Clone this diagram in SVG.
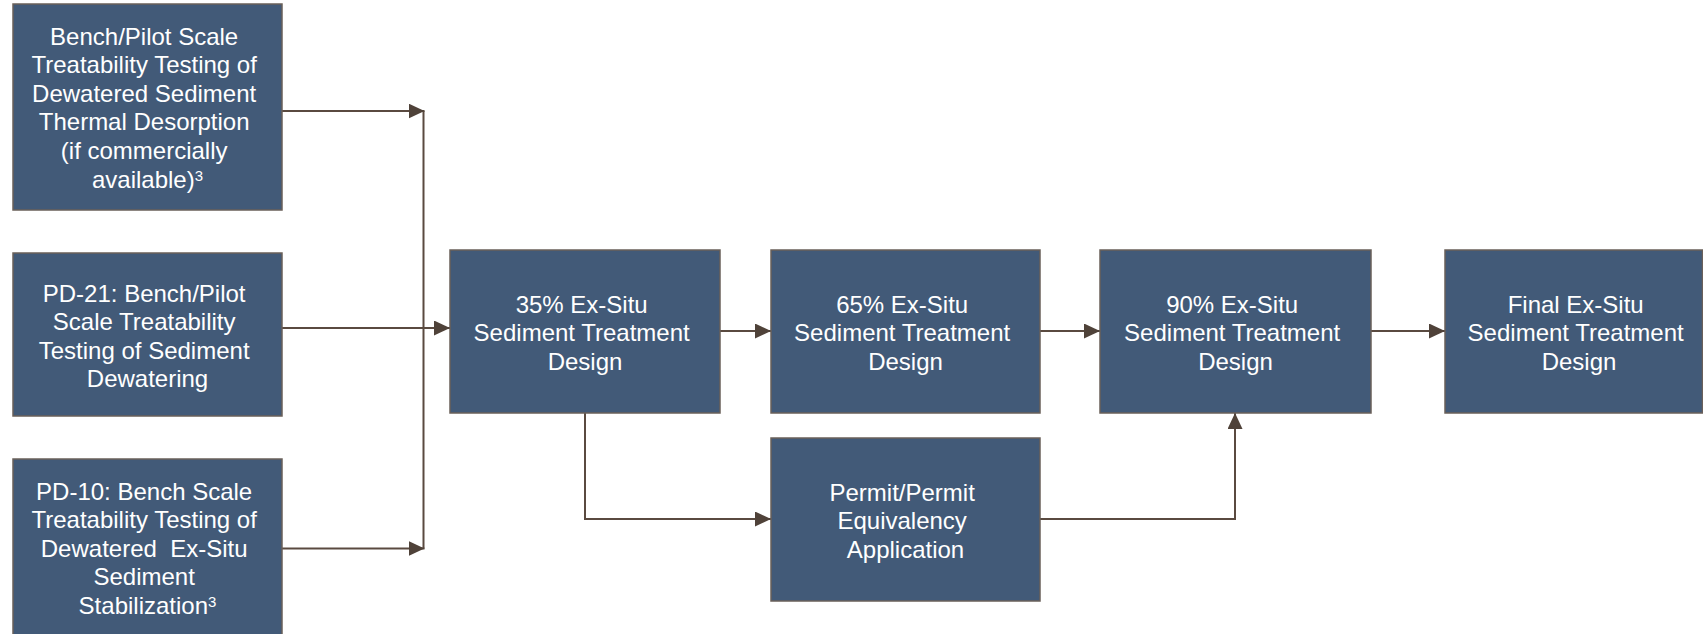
<svg xmlns="http://www.w3.org/2000/svg" width="1703" height="634" viewBox="0 0 1703 634">
  <defs>
    <marker id="arrow" markerUnits="userSpaceOnUse" markerWidth="16" markerHeight="15" refX="16" refY="7.5" orient="auto">
      <path d="M0,0 L16,7.5 L0,15 Z" fill="#4f4239"/>
    </marker>
    <style>
      .box { fill: #425a78; stroke: #6a605a; stroke-width: 1.5; }
      .lbl { font-family: "Liberation Sans", Arial, sans-serif; font-size: 24px; fill: #ffffff; text-anchor: middle; }
      .sup { font-size: 15px; }
      .wire { fill: none; stroke: #5a4a40; stroke-width: 2; }
      .arr { marker-end: url(#arrow); }
    </style>
  </defs>
  <rect width="1703" height="634" fill="#ffffff"/>

  <!-- connectors -->
  <g id="connectors">
    <path class="wire" d="M423.5,111 V548.5"/>
    <path class="wire arr" d="M282,111 H424.5"/>
    <path class="wire arr" d="M282,548.5 H424.5"/>
    <path class="wire arr" d="M282,328 H450"/>
    <path class="wire arr" d="M720,331 H771"/>
    <path class="wire arr" d="M1040,331 H1100"/>
    <path class="wire arr" d="M1371,331 H1445"/>
    <path class="wire arr" d="M585,413 V519 H771"/>
    <path class="wire arr" d="M1040,519 H1235 V413"/>
  </g>

  <!-- treatability testing inputs -->
  <g id="thermal-desorption">
    <rect class="box" x="13" y="4" width="269" height="206"/>
    <text class="lbl">
      <tspan x="147.5" y="44.5">Bench/Pilot Scale</tspan>
      <tspan x="147.5" y="73">Treatability Testing of</tspan>
      <tspan x="147.5" y="101.5">Dewatered Sediment</tspan>
      <tspan x="147.5" y="130">Thermal Desorption</tspan>
      <tspan x="147.5" y="158.5">(if commercially</tspan>
      <tspan x="147.5" y="187.5">available)<tspan class="sup" dy="-7">3</tspan></tspan>
    </text>
  </g>

  <g id="pd-21">
    <rect class="box" x="13" y="253" width="269" height="163"/>
    <text class="lbl">
      <tspan x="147.5" y="301.5">PD-21: Bench/Pilot</tspan>
      <tspan x="147.5" y="330">Scale Treatability</tspan>
      <tspan x="147.5" y="358.5">Testing of Sediment</tspan>
      <tspan x="147.5" y="387">Dewatering</tspan>
    </text>
  </g>

  <g id="pd-10">
    <rect class="box" x="13" y="459" width="269" height="200"/>
    <text class="lbl">
      <tspan x="147.5" y="499.5">PD-10: Bench Scale</tspan>
      <tspan x="147.5" y="528">Treatability Testing of</tspan>
      <tspan x="147.5" y="556.5" xml:space="preserve">Dewatered  Ex-Situ</tspan>
      <tspan x="147.5" y="585">Sediment</tspan>
      <tspan x="147.5" y="613.5">Stabilization<tspan class="sup" dy="-7">3</tspan></tspan>
    </text>
  </g>

  <!-- design stages -->
  <g id="design-35">
    <rect class="box" x="450" y="250" width="270" height="163"/>
    <text class="lbl">
      <tspan x="585" y="312.5">35% Ex-Situ</tspan>
      <tspan x="585" y="341">Sediment Treatment</tspan>
      <tspan x="585" y="369.5">Design</tspan>
    </text>
  </g>

  <g id="design-65">
    <rect class="box" x="771" y="250" width="269" height="163"/>
    <text class="lbl">
      <tspan x="905.5" y="312.5">65% Ex-Situ</tspan>
      <tspan x="905.5" y="341">Sediment Treatment</tspan>
      <tspan x="905.5" y="369.5">Design</tspan>
    </text>
  </g>

  <g id="design-90">
    <rect class="box" x="1100" y="250" width="271" height="163"/>
    <text class="lbl">
      <tspan x="1235.5" y="312.5">90% Ex-Situ</tspan>
      <tspan x="1235.5" y="341">Sediment Treatment</tspan>
      <tspan x="1235.5" y="369.5">Design</tspan>
    </text>
  </g>

  <g id="design-final">
    <rect class="box" x="1445" y="250" width="257.5" height="163"/>
    <text class="lbl">
      <tspan x="1579" y="312.5">Final Ex-Situ</tspan>
      <tspan x="1579" y="341">Sediment Treatment</tspan>
      <tspan x="1579" y="369.5">Design</tspan>
    </text>
  </g>

  <g id="permit">
    <rect class="box" x="771" y="438" width="269" height="163"/>
    <text class="lbl">
      <tspan x="905.5" y="500.5">Permit/Permit</tspan>
      <tspan x="905.5" y="529">Equivalency</tspan>
      <tspan x="905.5" y="557.5">Application</tspan>
    </text>
  </g>
</svg>
